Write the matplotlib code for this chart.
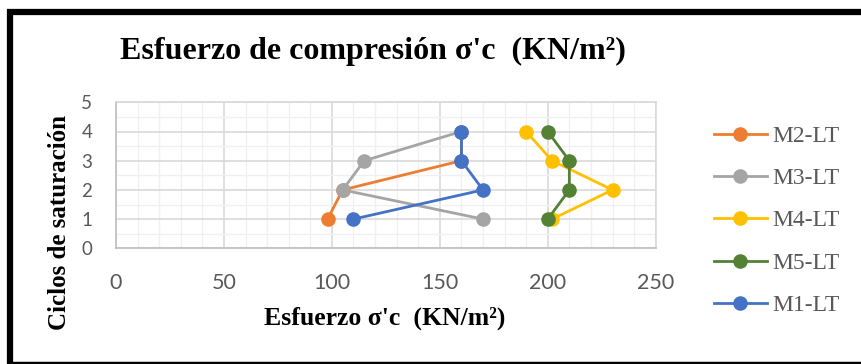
import matplotlib
matplotlib.use("Agg")
import matplotlib.pyplot as plt
from matplotlib.lines import Line2D
from matplotlib.ticker import MultipleLocator

# Saturation cycles (y) and compressive stress per mix (x)
ciclos = [1, 2, 3, 4]
series_names = ["M2-LT", "M3-LT", "M4-LT", "M5-LT", "M1-LT"]
m2_lt = [98, 105, 160, 160]
m3_lt = [170, 105, 115, 160]
m4_lt = [202, 230, 202, 190]
m5_lt = [200, 210, 210, 200]
m1_lt = [110, 170, 160, 160]
series_values = [m2_lt, m3_lt, m4_lt, m5_lt, m1_lt]
colors = ["#ED7D31", "#A5A5A5", "#FFC000", "#548235", "#4472C4"]

x_ticks = [0, 50, 100, 150, 200, 250]
y_ticks = [0, 1, 2, 3, 4, 5]

W, H = 862, 364
fig = plt.figure(figsize=(W / 100, H / 100), dpi=100)

serif = ["Liberation Serif", "DejaVu Serif"]
tick_font = ["Lato", "DejaVu Sans"]
tick_color = "#595959"

ax = fig.add_axes([116 / W, 1 - 248.3 / H, (655.7 - 116) / W, (248.3 - 102.3) / H])
for name, vals, c in zip(series_names, series_values, colors):
    ax.plot(vals, ciclos, color=c, lw=2.0, marker="o", ms=10.5,
            markeredgewidth=0, label=name, solid_capstyle="round", zorder=3)

ax.set_xlim(0, 250)
ax.set_ylim(0, 5)
ax.xaxis.set_major_locator(MultipleLocator(50))
ax.xaxis.set_minor_locator(MultipleLocator(10))
ax.yaxis.set_major_locator(MultipleLocator(1))
ax.yaxis.set_minor_locator(MultipleLocator(0.5))
ax.set_xticks(x_ticks)
ax.set_yticks(y_ticks)
ax.grid(which="major", color="#D9D9D9", lw=1.2, zorder=1)
ax.grid(which="minor", color="#F0F0F0", lw=1.0, zorder=0)
ax.set_axisbelow(True)
for s in ax.spines.values():
    s.set_color("#D9D9D9")
    s.set_linewidth(1.2)
ax.spines["left"].set_color("#BFBFBF")
ax.spines["bottom"].set_color("#BFBFBF")
ax.tick_params(which="both", length=0, colors=tick_color)
ax.tick_params(axis="x", pad=17.5, labelsize=15.5)
ax.tick_params(axis="y", pad=17, labelsize=13.5)
for lab in ax.get_xticklabels() + ax.get_yticklabels():
    lab.set_family(tick_font)

# Title and axis titles
fig.text(373 / W, 1 - 51 / H, "Esfuerzo de compresión σ'c  (KN/m²)",
         ha="center", va="center", family=serif, fontsize=23, fontweight="bold")
fig.text(385 / W, 1 - 318 / H, "Esfuerzo σ'c  (KN/m²)",
         ha="center", va="center", family=serif, fontsize=18.5, fontweight="bold")
fig.text(60 / W, 1 - 222 / H, "Ciclos de saturación", rotation=90,
         ha="center", va="center", family=serif, fontsize=18, fontweight="bold")

# Legend entries
legend_rows = [134, 176, 218, 261, 303]
for name, c, yr in zip(series_names, colors, legend_rows):
    yf = 1 - yr / H
    fig.add_artist(Line2D([714 / W, 767 / W], [yf, yf], color=c, lw=2.0,
                          transform=fig.transFigure))
    fig.add_artist(Line2D([740.5 / W], [yf], color=c, marker="o", ms=10.5,
                          markeredgewidth=0, transform=fig.transFigure))
    fig.text(772 / W, yf, name, ha="left", va="center_baseline", family=serif,
             fontsize=17, color=tick_color)

# Outer frame (top, left, bottom)
fig.add_artist(Line2D([7 / W, 1], [1 - 12 / H, 1 - 12 / H], color="black", lw=4.5,
                      transform=fig.transFigure, solid_capstyle="butt"))
fig.add_artist(Line2D([10 / W, 10 / W], [1 - 9 / H, 0], color="black", lw=4.5,
                      transform=fig.transFigure, solid_capstyle="butt"))
fig.add_artist(Line2D([7 / W, 1], [1 - 363 / H, 1 - 363 / H], color="black", lw=2.5,
                      transform=fig.transFigure, solid_capstyle="butt"))

fig.savefig("out.png", dpi=100)
